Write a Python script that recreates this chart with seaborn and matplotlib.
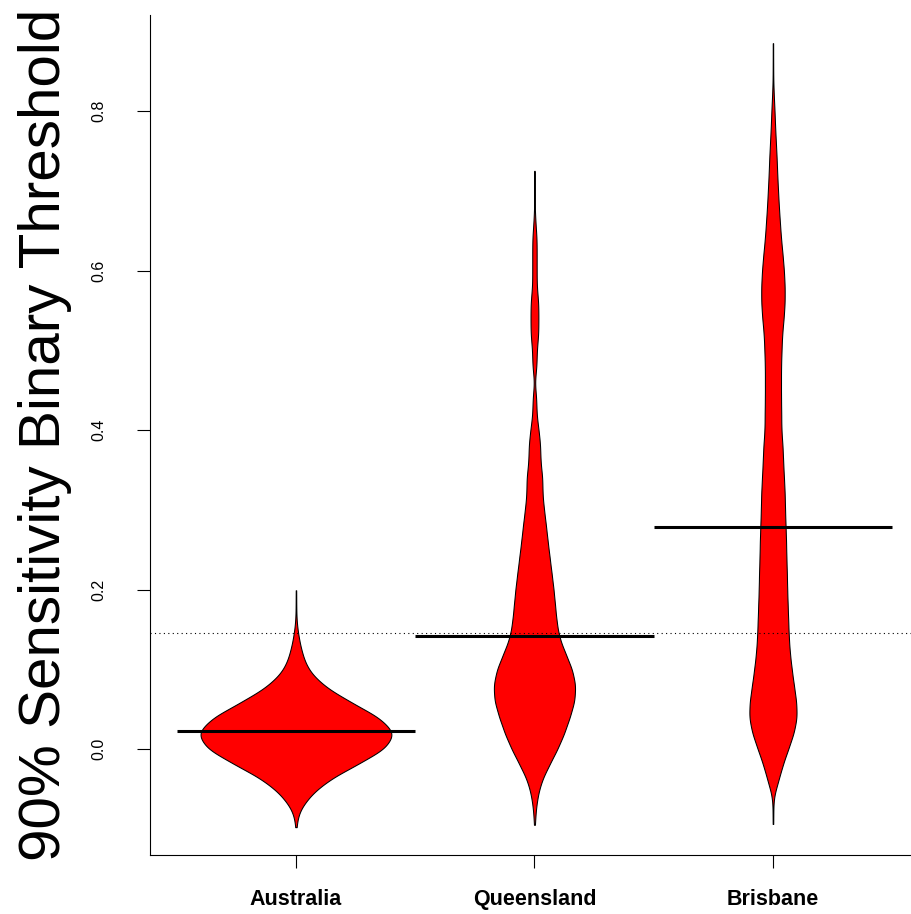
import numpy as np
import pandas as pd
import matplotlib
matplotlib.use("Agg")
import matplotlib.pyplot as plt
import seaborn as sns

# ---------------- data ----------------
categories = ["Australia", "Queensland", "Brisbane"]

# binned threshold values and how many observations fall at each value
aus_values = [-0.098, -0.08, -0.06, -0.04, -0.02, 0.00, 0.02, 0.04, 0.06,
              0.08, 0.10, 0.12, 0.14, 0.16, 0.18, 0.199]
aus_counts = [1, 8, 48, 116, 228, 340, 380, 316, 200,
              100, 44, 23, 10, 2, 1, 1]

qld_values = [-0.095, -0.08, -0.06, -0.04, -0.02, 0.00, 0.02, 0.04, 0.06,
              0.08, 0.10, 0.12, 0.14, 0.16, 0.18, 0.20, 0.22, 0.24, 0.26,
              0.28, 0.30, 0.32, 0.34, 0.36, 0.38, 0.40, 0.42, 0.44, 0.46,
              0.48, 0.50, 0.52, 0.54, 0.56, 0.58, 0.60, 0.62, 0.64, 0.66,
              0.68, 0.70, 0.725]
qld_counts = [1, 4, 12, 28, 60, 94, 122, 144, 164,
              168, 154, 126, 100, 90, 84, 78, 70, 62, 54,
              47, 39, 32, 33, 24, 24, 17, 8, 8, 0,
              9, 9, 16, 16, 16, 9, 9, 9, 9, 4,
              1, 1, 1]

bne_values = [-0.094, -0.08, -0.06, -0.04, -0.02, 0.00, 0.02, 0.04, 0.06,
              0.08, 0.10, 0.12, 0.14, 0.16, 0.18, 0.20, 0.22, 0.24, 0.26,
              0.28, 0.30, 0.32, 0.34, 0.36, 0.38, 0.40, 0.42, 0.44, 0.46,
              0.48, 0.50, 0.52, 0.54, 0.56, 0.58, 0.60, 0.62, 0.64, 0.66,
              0.68, 0.70, 0.72, 0.74, 0.76, 0.78, 0.80, 0.82, 0.84, 0.86,
              0.885]
bne_counts = [1, 1, 2, 20, 36, 57, 78, 90, 87,
              78, 70, 63, 59, 57, 55, 53, 52, 50, 49,
              47, 45, 44, 41, 38, 36, 31, 31, 30, 30,
              30, 32, 34, 40, 44, 44, 41, 36, 30, 26,
              22, 19, 16, 14, 11, 8, 6, 3, 1, 1,
              1]

group_means = [0.0226, 0.1417, 0.278]
overall_mean = 0.1455

y_ticks = [0.0, 0.2, 0.4, 0.6, 0.8]
y_tick_labels = ["0.0", "0.2", "0.4", "0.6", "0.8"]
y_label = "90% Sensitivity Binary Threshold"

# ---------------- build long table ----------------
frames = []
for name, vals, cnts in [("Australia", aus_values, aus_counts),
                         ("Queensland", qld_values, qld_counts),
                         ("Brisbane", bne_values, bne_counts)]:
    frames.append(pd.DataFrame({"group": name,
                                "value": np.repeat(vals, cnts)}))
df = pd.concat(frames, ignore_index=True)

# ---------------- plot ----------------
sns.set_style("white")
plt.rcParams["font.family"] = ["Liberation Sans", "DejaVu Sans"]
plt.rcParams.update({"text.color": "black", "axes.labelcolor": "black",
                     "xtick.color": "black", "ytick.color": "black"})

fig = plt.figure(figsize=(9.12, 9.14), dpi=100)
ax = fig.add_axes([150 / 912, 1 - 855 / 914, 762 / 912, 840 / 914])

bw_abs = 0.0125
sns.violinplot(data=df, x="group", y="value", order=categories,
               color="#ff0000", saturation=1, linecolor="black",
               linewidth=0.75, inner=None, cut=0, gridsize=600,
               bw_method=lambda k: bw_abs / np.std(k.dataset, ddof=1),
               density_norm="area", width=0.8, ax=ax)

pos = np.arange(len(categories))
ax.axhline(overall_mean, color="black", lw=0.8, ls=(0, (1, 3)), zorder=1)
ax.hlines(group_means, pos - 0.5, pos + 0.5, colors="black", lw=2.2, zorder=4)

ax.set_xlim(-0.612, 2.583)
ax.set_ylim(-0.1329, 0.9204)

for s in ["top", "right"]:
    ax.spines[s].set_visible(False)
for s in ["left", "bottom"]:
    ax.spines[s].set_color("black")
    ax.spines[s].set_linewidth(0.8)

ax.set_yticks(y_ticks)
ax.set_yticklabels(y_tick_labels)
ax.tick_params(axis="both", direction="out", length=9.5, width=0.8,
               color="black", labelcolor="black", left=True, bottom=True)
ax.tick_params(axis="y", pad=22)
ax.tick_params(axis="x", pad=15)

narrow = ["Liberation Sans Narrow", "Liberation Sans", "DejaVu Sans"]
for lab in ax.get_yticklabels():
    lab.set_family(narrow)
    lab.set_fontsize(11.5)
    lab.set_rotation(90)
    lab.set_va("center")
for lab in ax.get_xticklabels():
    lab.set_family(narrow)
    lab.set_fontsize(15.5)
    lab.set_fontweight("bold")

ax.set_xlabel("")
ax.set_ylabel(y_label, fontsize=42, color="black",
              family=["Liberation Sans", "DejaVu Sans"])
ax.yaxis.set_label_coords(-0.102, 0.5)

fig.savefig("out.png", dpi=100)
